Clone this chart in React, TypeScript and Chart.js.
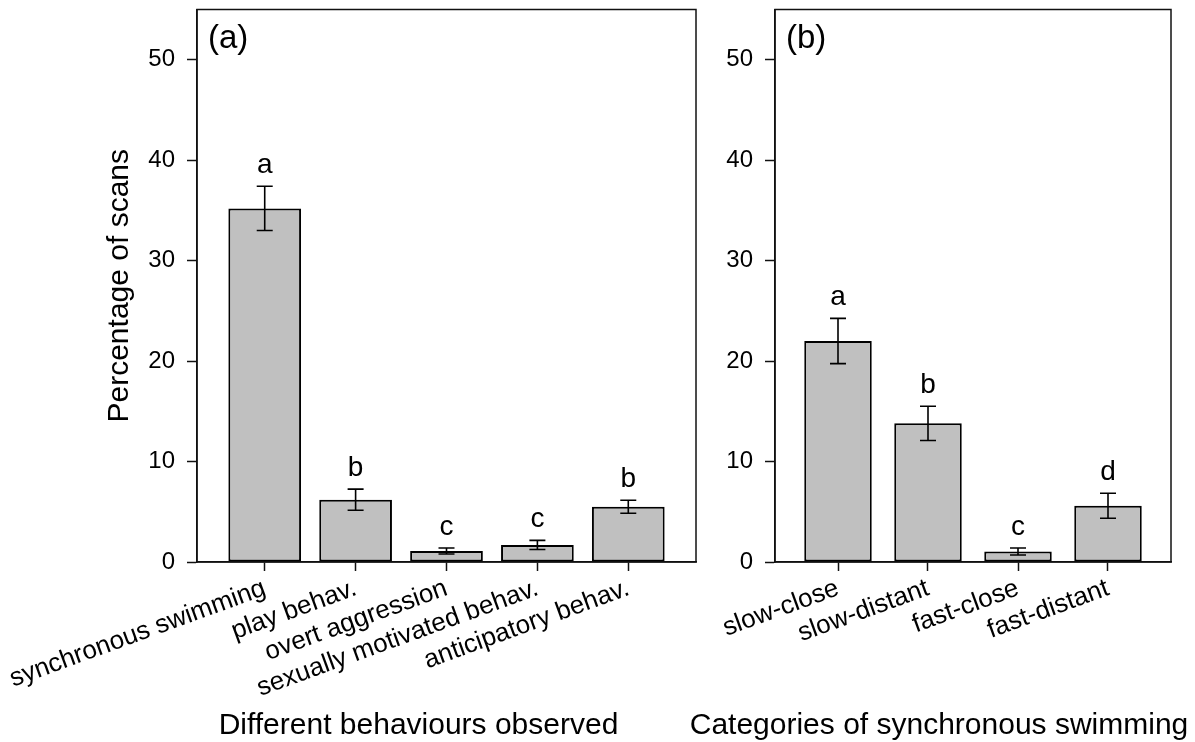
import React, { useEffect, useRef } from 'react';
import { Chart, registerables } from 'chart.js';

Chart.register(...registerables);

// ---------- data ----------
const behaviourLabels = [
  'synchronous swimming',
  'play behav.',
  'overt aggression',
  'sexually motivated behav.',
  'anticipatory behav.',
];
const behaviourMeans = [35.2, 6.2, 1.1, 1.7, 5.5];
const behaviourSE = [2.2, 1.05, 0.3, 0.45, 0.65];
const behaviourLetters = ['a', 'b', 'c', 'c', 'b'];

const swimLabels = ['slow-close', 'slow-distant', 'fast-close', 'fast-distant'];
const swimMeans = [22.0, 13.8, 1.05, 5.6];
const swimSE = [2.25, 1.7, 0.35, 1.25];
const swimLetters = ['a', 'b', 'c', 'd'];

const yTicks = [0, 10, 20, 30, 40, 50];
const yMax = 55;

const FONT = "'Liberation Sans', Arial, Helvetica, sans-serif";

type PanelProps = {
  labels: string[];
  means: number[];
  se: number[];
  letters: string[];
  tag: string;
  xTitle: string;
  yTitle?: string;
  width: number;
  height: number;
  left: number;
  pad: { left: number; top: number; right: number; bottom: number };
  yWidth: number;
  xHeight: number;
  xMargin: number;
  catPct: number;
  titleShift: number;
};

const decorPlugin = {
  id: 'decor',
  afterDatasetsDraw(chart: any, _args: any, opts: any) {
    const { ctx, chartArea } = chart;
    const xs = chart.scales.x;
    const ys = chart.scales.y;
    ctx.save();
    // error bars
    ctx.strokeStyle = '#000';
    ctx.lineWidth = 1.6;
    opts.means.forEach((m: number, i: number) => {
      const px = xs.getPixelForValue(i + 1);
      const hi = ys.getPixelForValue(m + opts.se[i]);
      const lo = ys.getPixelForValue(m - opts.se[i]);
      ctx.beginPath();
      ctx.moveTo(px, hi);
      ctx.lineTo(px, lo);
      ctx.moveTo(px - 8, hi);
      ctx.lineTo(px + 8, hi);
      ctx.moveTo(px - 8, lo);
      ctx.lineTo(px + 8, lo);
      ctx.stroke();
      // letters
      ctx.fillStyle = '#000';
      ctx.font = `28px ${FONT}`;
      ctx.textAlign = 'center';
      ctx.textBaseline = 'alphabetic';
      ctx.fillText(opts.letters[i], px, hi - 13);
    });
    // frame
    ctx.lineWidth = 1.5;
    ctx.strokeStyle = '#111';
    ctx.strokeRect(
      chartArea.left,
      chartArea.top,
      chartArea.right - chartArea.left,
      chartArea.bottom - chartArea.top
    );
    // panel tag
    ctx.font = `33px ${FONT}`;
    ctx.textAlign = 'left';
    ctx.textBaseline = 'middle';
    ctx.fillStyle = '#000';
    ctx.fillText(opts.tag, chartArea.left + 11, chartArea.top + 29);
    // x title
    ctx.font = `30px ${FONT}`;
    ctx.textAlign = 'center';
    ctx.textBaseline = 'alphabetic';
    ctx.fillText(
      opts.xTitle,
      (chartArea.left + chartArea.right) / 2 + opts.titleShift,
      chart.height - 8
    );
    ctx.restore();
  },
};

function Panel(p: PanelProps) {
  const ref = useRef<HTMLCanvasElement | null>(null);
  useEffect(() => {
    if (!ref.current) return;
    const chart = new Chart(ref.current, {
      type: 'bar',
      data: {
        datasets: [
          {
            data: p.means.map((v, i) => ({ x: i + 1, y: v })),
            backgroundColor: '#c0c0c0',
            borderColor: '#000',
            borderWidth: 2,
            borderSkipped: false,
            barPercentage: 1,
            categoryPercentage: p.catPct,
          } as any,
        ],
      },
      options: {
        responsive: false,
        animation: false,
        events: [],
        layout: { padding: p.pad },
        plugins: {
          legend: { display: false },
          tooltip: { enabled: false },
          decor: {
            means: p.means,
            se: p.se,
            letters: p.letters,
            tag: p.tag,
            xTitle: p.xTitle,
            titleShift: p.titleShift,
          },
        } as any,
        scales: {
          x: {
            type: 'linear',
            min: 1 - p.xMargin,
            max: p.labels.length + p.xMargin,
            offset: false,
            afterBuildTicks: (scale: any) => {
              scale.ticks = p.labels.map((_, i) => ({ value: i + 1 }));
            },
            afterFit: (scale: any) => {
              scale.height = p.xHeight;
              scale.paddingLeft = 0;
              scale.paddingRight = 0;
            },
            ticks: {
              autoSkip: false,
              minRotation: 20,
              maxRotation: 20,
              padding: 2,
              color: '#000',
              font: { family: FONT, size: 26 },
              callback: (v: any) => p.labels[Math.round(Number(v)) - 1] ?? '',
            },
            grid: {
              display: true,
              offset: false,
              drawOnChartArea: false,
              drawTicks: true,
              tickLength: 9,
              tickColor: '#111',
              tickWidth: 1.5,
            },
            border: { display: true, color: '#111', width: 1.5 },
          },
          y: {
            type: 'linear',
            min: 0,
            max: yMax,
            afterBuildTicks: (scale: any) => {
              scale.ticks = yTicks.map((v) => ({ value: v }));
            },
            afterFit: (scale: any) => {
              scale.width = p.yWidth;
              scale.paddingTop = 0;
              scale.paddingBottom = 0;
            },
            ticks: {
              padding: 12,
              color: '#000',
              font: { family: FONT, size: 24 },
              callback: (v: any) => String(v),
            },
            grid: {
              display: true,
              drawOnChartArea: false,
              drawTicks: true,
              tickLength: 10,
              tickColor: '#111',
              tickWidth: 1.5,
            },
            border: { display: true, color: '#111', width: 1.5 },
            title: {
              display: !!p.yTitle,
              text: p.yTitle || '',
              color: '#000',
              font: { family: FONT, size: 30 },
              padding: 0,
            },
          },
        },
      } as any,
      plugins: [decorPlugin as any],
    });
    return () => chart.destroy();
  }, []);
  return (
    <canvas
      ref={ref}
      width={p.width}
      height={p.height}
      style={{ position: 'absolute', left: p.left, top: 0, width: p.width, height: p.height, display: 'block' }}
    />
  );
}

export default function App() {
  return (
    <div style={{ position: 'fixed', left: 0, top: 0, width: 1195, height: 742, background: '#fff', overflow: 'hidden' }}>
      <Panel
        labels={behaviourLabels}
        means={behaviourMeans}
        se={behaviourSE}
        letters={behaviourLetters}
        tag="(a)"
        xTitle="Different behaviours observed"
        yTitle="Percentage of scans"
        width={710}
        height={742}
        left={0}
        pad={{ left: 102, top: 9.5, right: 14, bottom: 0 }}
        yWidth={95}
        xHeight={180}
        xMargin={0.745}
        catPct={0.8}
        titleShift={-28}
      />
      <Panel
        labels={swimLabels}
        means={swimMeans}
        se={swimSE}
        letters={swimLetters}
        tag="(b)"
        xTitle="Categories of synchronous swimming"
        width={515}
        height={742}
        left={680}
        pad={{ left: 30, top: 9.5, right: 24, bottom: 0 }}
        yWidth={65}
        xHeight={180}
        xMargin={0.7}
        catPct={0.75}
        titleShift={-34}
      />
    </div>
  );
}
